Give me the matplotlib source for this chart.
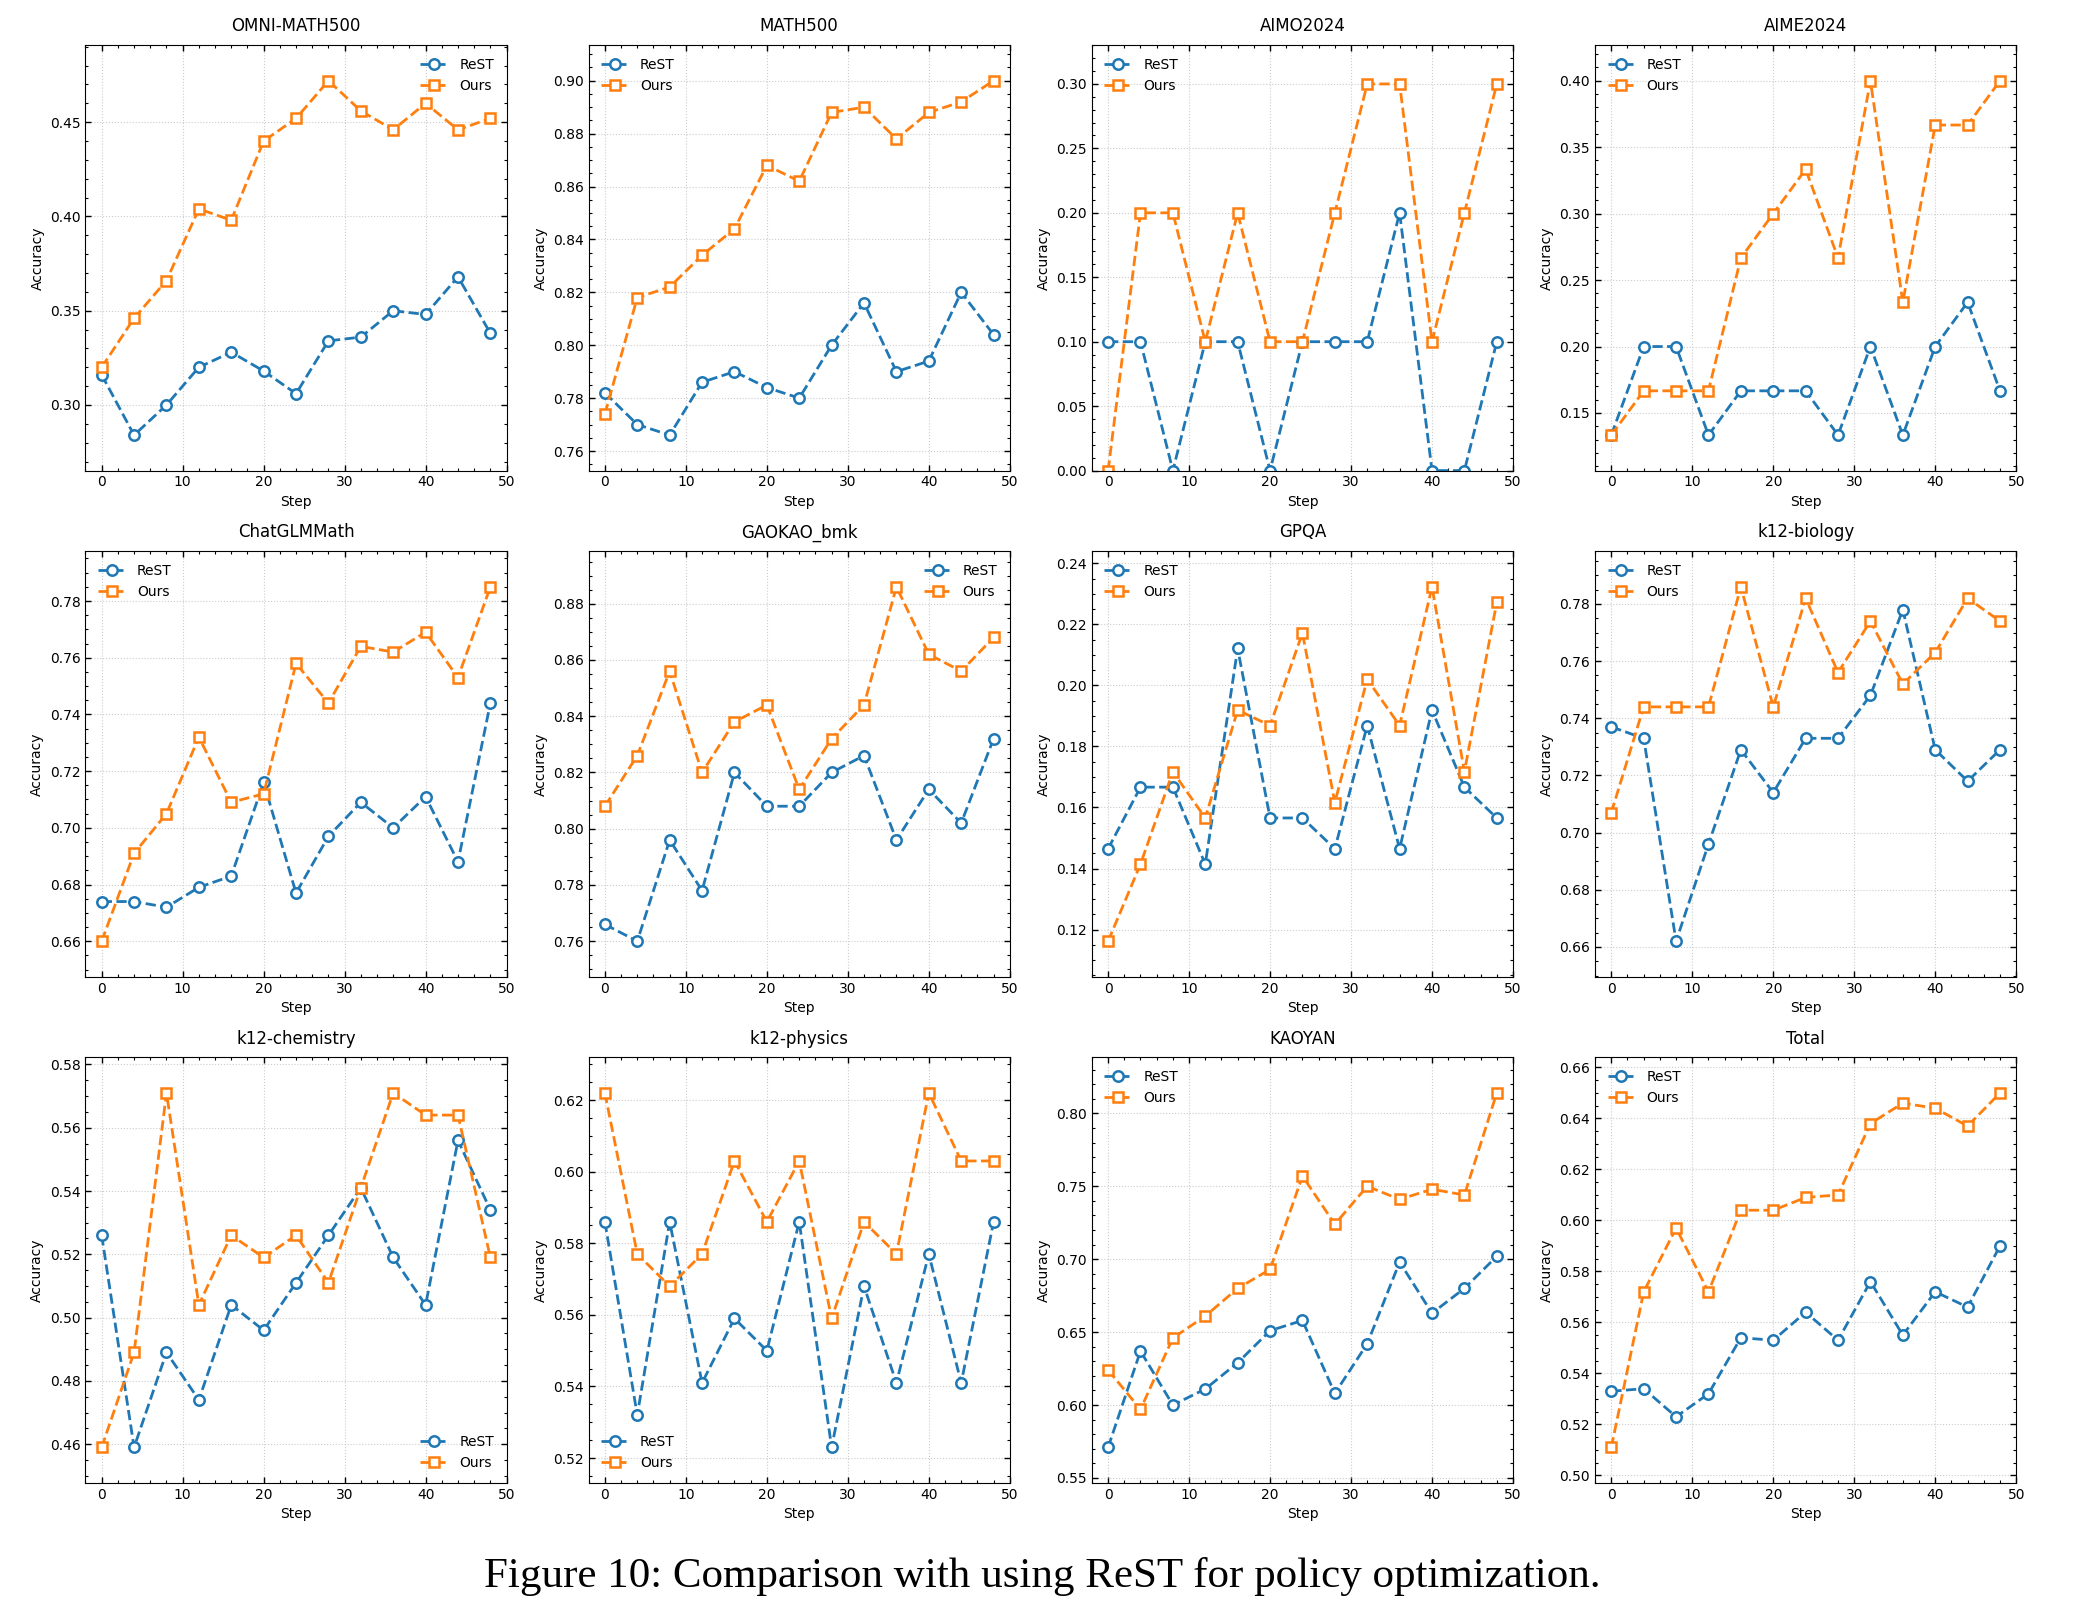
import numpy as np
import matplotlib.pyplot as plt
from matplotlib.ticker import AutoMinorLocator, MultipleLocator

# Pasos de entrenamiento (eje x)
steps = [0, 4, 8, 12, 16, 20, 24, 28, 32, 36, 40, 44, 48]

titles = ['OMNI-MATH500', 'MATH500', 'AIMO2024', 'AIME2024',
          'ChatGLMMath', 'GAOKAO_bmk', 'GPQA', 'k12-biology',
          'k12-chemistry', 'k12-physics', 'KAOYAN', 'Total']

# Precisión de ReST por benchmark
rest_omni = [0.316, 0.284, 0.300, 0.320, 0.328, 0.318, 0.306, 0.334, 0.336, 0.350, 0.348, 0.368, 0.338]
rest_math = [0.782, 0.770, 0.766, 0.786, 0.790, 0.784, 0.780, 0.800, 0.816, 0.790, 0.794, 0.820, 0.804]
rest_aimo = [0.1, 0.1, 0.0, 0.1, 0.1, 0.0, 0.1, 0.1, 0.1, 0.2, 0.0, 0.0, 0.1]
rest_aime = [4/30, 6/30, 6/30, 4/30, 5/30, 5/30, 5/30, 4/30, 6/30, 4/30, 6/30, 7/30, 5/30]
rest_glm = [0.674, 0.674, 0.672, 0.679, 0.683, 0.716, 0.677, 0.697, 0.709, 0.700, 0.711, 0.688, 0.744]
rest_gaokao = [0.766, 0.760, 0.796, 0.778, 0.820, 0.808, 0.808, 0.820, 0.826, 0.796, 0.814, 0.802, 0.832]
rest_gpqa = [29/198, 33/198, 33/198, 28/198, 42/198, 31/198, 31/198, 29/198, 37/198, 29/198, 38/198, 33/198, 31/198]
rest_bio = [0.737, 0.733, 0.662, 0.696, 0.729, 0.714, 0.733, 0.733, 0.748, 0.778, 0.729, 0.718, 0.729]
rest_chem = [0.526, 0.459, 0.489, 0.474, 0.504, 0.496, 0.511, 0.526, 0.541, 0.519, 0.504, 0.556, 0.534]
rest_phys = [0.586, 0.532, 0.586, 0.541, 0.559, 0.550, 0.586, 0.523, 0.568, 0.541, 0.577, 0.541, 0.586]
rest_kaoyan = [0.571, 0.637, 0.600, 0.611, 0.629, 0.651, 0.658, 0.608, 0.642, 0.698, 0.663, 0.680, 0.702]
rest_total = [0.533, 0.534, 0.523, 0.532, 0.554, 0.553, 0.564, 0.553, 0.576, 0.555, 0.572, 0.566, 0.590]

# Precisión del método propuesto
ours_omni = [0.320, 0.346, 0.366, 0.404, 0.398, 0.440, 0.452, 0.472, 0.456, 0.446, 0.460, 0.446, 0.452]
ours_math = [0.774, 0.818, 0.822, 0.834, 0.844, 0.868, 0.862, 0.888, 0.890, 0.878, 0.888, 0.892, 0.900]
ours_aimo = [0.0, 0.2, 0.2, 0.1, 0.2, 0.1, 0.1, 0.2, 0.3, 0.3, 0.1, 0.2, 0.3]
ours_aime = [4/30, 5/30, 5/30, 5/30, 8/30, 9/30, 10/30, 8/30, 12/30, 7/30, 11/30, 11/30, 12/30]
ours_glm = [0.660, 0.691, 0.705, 0.732, 0.709, 0.712, 0.758, 0.744, 0.764, 0.762, 0.769, 0.753, 0.785]
ours_gaokao = [0.808, 0.826, 0.856, 0.820, 0.838, 0.844, 0.814, 0.832, 0.844, 0.886, 0.862, 0.856, 0.868]
ours_gpqa = [23/198, 28/198, 34/198, 31/198, 38/198, 37/198, 43/198, 32/198, 40/198, 37/198, 46/198, 34/198, 45/198]
ours_bio = [0.707, 0.744, 0.744, 0.744, 0.786, 0.744, 0.782, 0.756, 0.774, 0.752, 0.763, 0.782, 0.774]
ours_chem = [0.459, 0.489, 0.571, 0.504, 0.526, 0.519, 0.526, 0.511, 0.541, 0.571, 0.564, 0.564, 0.519]
ours_phys = [0.622, 0.577, 0.568, 0.577, 0.603, 0.586, 0.603, 0.559, 0.586, 0.577, 0.622, 0.603, 0.603]
ours_kaoyan = [0.624, 0.597, 0.646, 0.661, 0.680, 0.693, 0.757, 0.724, 0.750, 0.741, 0.748, 0.744, 0.814]
ours_total = [0.511, 0.572, 0.597, 0.572, 0.604, 0.604, 0.609, 0.610, 0.638, 0.646, 0.644, 0.637, 0.650]

rest_all = [rest_omni, rest_math, rest_aimo, rest_aime, rest_glm, rest_gaokao,
            rest_gpqa, rest_bio, rest_chem, rest_phys, rest_kaoyan, rest_total]
ours_all = [ours_omni, ours_math, ours_aimo, ours_aime, ours_glm, ours_gaokao,
            ours_gpqa, ours_bio, ours_chem, ours_phys, ours_kaoyan, ours_total]
legend_locs = ['upper right', 'upper left', 'upper left', 'upper left',
               'upper left', 'upper right', 'upper left', 'upper left',
               'lower right', 'lower left', 'upper left', 'upper left']

plt.rcParams['font.size'] = 10

fig, axes = plt.subplots(3, 4, figsize=(20.85, 16.17), dpi=100)
fig.subplots_adjust(left=0.041, right=0.967, top=0.972, bottom=0.083,
                    wspace=0.195, hspace=0.19)

for ax, title, rest, ours, loc in zip(axes.flat, titles, rest_all, ours_all, legend_locs):
    ax.plot(steps, rest, '--o', color='#1f77b4', lw=2, ms=7.5,
            mfc='white', mew=1.8, label='ReST')
    ax.plot(steps, ours, '--s', color='#ff7f0e', lw=2, ms=7.5,
            mfc='white', mew=1.8, label='Ours')

    # Límites: margen del 10% del rango, sin bajar de cero
    lo = min(min(rest), min(ours))
    hi = max(max(rest), max(ours))
    pad = 0.1 * (hi - lo)
    ax.set_ylim(max(0.0, lo - pad), hi + pad)
    ax.set_xlim(-2, 50)

    ax.xaxis.set_major_locator(MultipleLocator(10))
    ax.xaxis.set_minor_locator(AutoMinorLocator())
    ax.yaxis.set_minor_locator(AutoMinorLocator())
    ax.tick_params(which='both', direction='in', top=True, right=True)
    ax.tick_params(which='major', length=4, width=1)
    ax.tick_params(which='minor', length=2, width=0.8)
    ax.grid(True, linestyle=':', color='#cccccc', linewidth=0.8)

    ax.set_title(title, fontsize=12, pad=10)
    ax.set_xlabel('Step')
    ax.set_ylabel('Accuracy')
    ax.legend(loc=loc, frameon=False)

fig.text(0.5, 0.025, 'Figure 10: Comparison with using ReST for policy optimization.',
         ha='center', va='center', fontsize=31, family='Liberation Serif')

plt.savefig('out.png')
